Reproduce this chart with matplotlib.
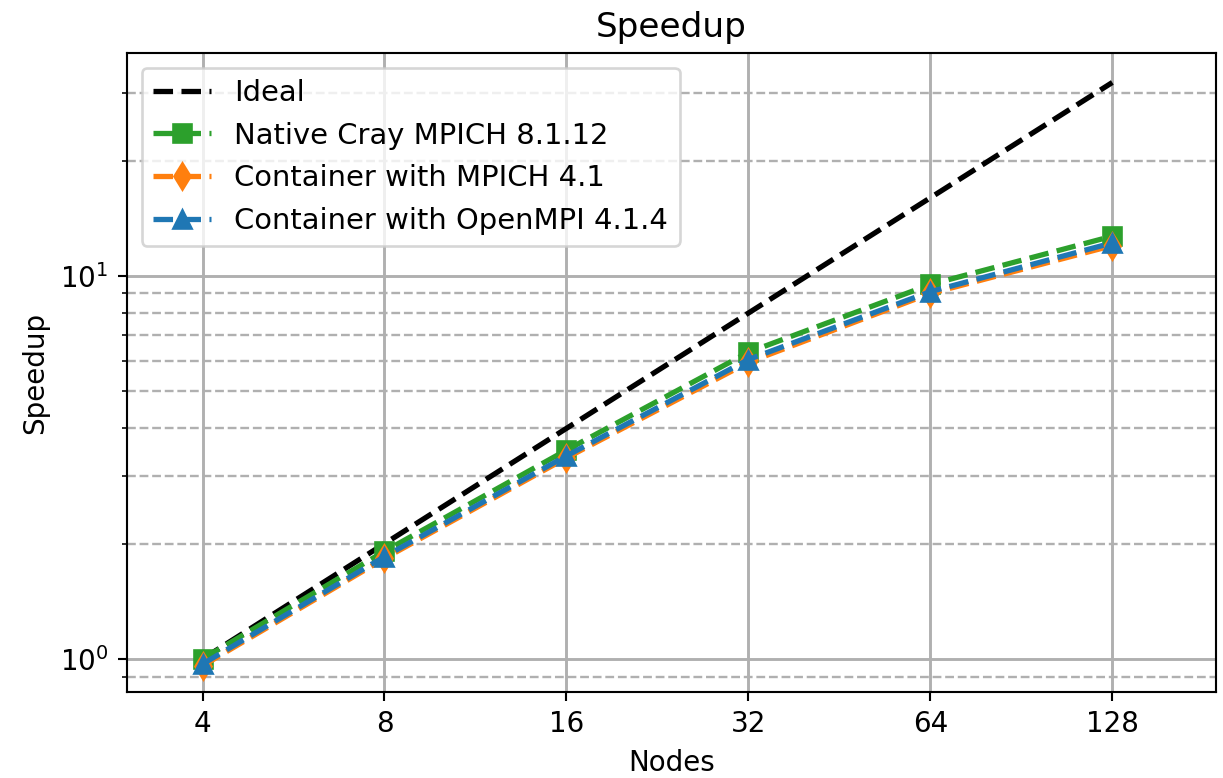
import numpy as np
import matplotlib
matplotlib.use("Agg")
import matplotlib.pyplot as plt
from matplotlib.ticker import FixedLocator

nodes = [4, 8, 16, 32, 64, 128]
ideal = [1, 2, 4, 8, 16, 32]
native = [1.0, 1.91, 3.51, 6.32, 9.5, 12.7]
mpich = [0.96, 1.83, 3.35, 5.95, 9.0, 12.0]
openmpi = [0.97, 1.85, 3.39, 6.05, 9.1, 12.2]

plt.rcParams['font.size'] = 10.5

fig = plt.figure(figsize=(1223/190, 778/190), dpi=190)
ax = fig.add_axes([127/1223, 1-692/778, (1216-127)/1223, (692-53)/778])

ax.plot(nodes, ideal, '--', color='black', lw=2, label='Ideal')
ax.plot(nodes, native, '--', color='tab:green', lw=2, marker='s', markersize=7,
        label='Native Cray MPICH 8.1.12')
ax.plot(nodes, mpich, '--', color='tab:orange', lw=2, marker='d', markersize=7,
        label='Container with MPICH 4.1')
ax.plot(nodes, openmpi, '--', color='tab:blue', lw=2, marker='^', markersize=7,
        label='Container with OpenMPI 4.1.4')

ax.set_xscale('log', base=2)
ax.set_yscale('log')
ax.set_xticks(nodes)
ax.set_xticklabels([str(n) for n in nodes])
ax.xaxis.set_minor_locator(FixedLocator([]))
ax.set_xlim(3.0, 190)
ax.set_ylim(0.82, 38.2)

ax.grid(True, which='major', color='#b0b0b0', lw=1.1)
ax.grid(True, which='minor', axis='y', color='#b0b0b0', ls='--', lw=0.9)

ax.set_xlabel('Nodes', fontsize=10.5)
ax.set_ylabel('Speedup', fontsize=10.5)
ax.set_title('Speedup', fontsize=13)
ax.legend(loc='upper left', fontsize=11)

fig.savefig('out.png', dpi=190)
